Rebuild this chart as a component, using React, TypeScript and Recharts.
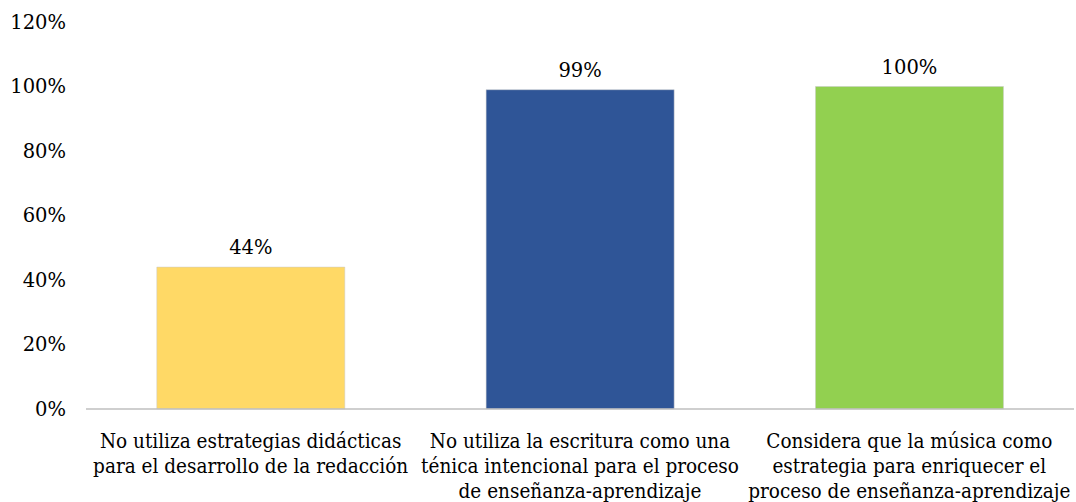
import { Bar, BarChart, Cell, LabelList, XAxis, YAxis } from 'recharts'

const categories = [
  'No utiliza estrategias didácticas|para el desarrollo de la redacción',
  'No utiliza la escritura como una|ténica intencional para el proceso|de enseñanza-aprendizaje',
  'Considera que la música como|estrategia para enriquecer el|proceso de enseñanza-aprendizaje',
]
const values = [44, 99, 100]
const colors = ['#FFD966', '#2F5597', '#92D050']
const yTicks = [0, 20, 40, 60, 80, 100, 120]

const data = categories.map((name, i) => ({ name, value: values[i] }))

const NUM_FONT = 'DejaVu Serif'
const LABEL_FONT = 'DejaVu Serif Condensed, DejaVu Serif'

// multi-line category label
function CategoryTick(props: any) {
  const { x, y, payload } = props
  const lines = String(payload.value).split('|')
  return (
    <text
      x={x}
      y={y}
      textAnchor="middle"
      fill="#000"
      fontFamily={LABEL_FONT}
      fontSize={20.5}
    >
      {lines.map((line, i) => (
        <tspan key={i} x={x} dy={i === 0 ? 31 : 25}>
          {line}
        </tspan>
      ))}
    </text>
  )
}

export default function App() {
  return (
    <div style={{ position: 'absolute', top: 0, left: 0, background: '#fff' }}>
      <BarChart
        width={1076}
        height={502}
        data={data}
        margin={{ top: 22, right: 2, bottom: 0, left: 0 }}
        barCategoryGap="21.5%"
        style={{ overflow: 'visible' }}
      >
        <XAxis
          dataKey="name"
          tick={<CategoryTick />}
          tickLine={false}
          axisLine={{ stroke: '#BFBFBF', strokeWidth: 1.5 }}
          height={93}
          interval={0}
        />
        <YAxis
          domain={[0, 120]}
          ticks={yTicks}
          tickFormatter={(v: number) => `${v}%`}
          axisLine={false}
          tickLine={false}
          tickSize={0}
          tickMargin={20}
          width={86}
          tick={{ fill: '#000', fontSize: 19.5, fontFamily: NUM_FONT }}
        />
        <Bar dataKey="value" isAnimationActive={false}>
          {data.map((_, i) => (
            <Cell key={i} fill={colors[i]} stroke="#c8c8c8" strokeWidth={0.5} />
          ))}
          <LabelList
            dataKey="value"
            position="top"
            offset={13}
            formatter={(v: number) => `${v}%`}
            fill="#000"
            fontSize={19.5}
            fontFamily={NUM_FONT}
          />
        </Bar>
      </BarChart>
    </div>
  )
}
